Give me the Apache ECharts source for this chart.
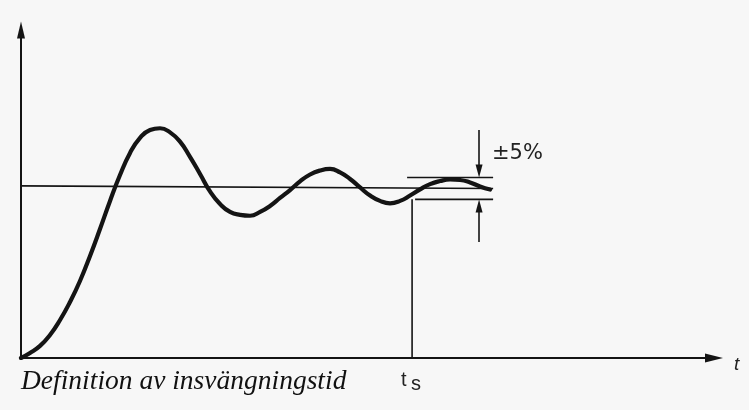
<!DOCTYPE html>
<html>
<head>
<meta charset="utf-8">
<script src="https://cdn.jsdelivr.net/npm/echarts@6/dist/echarts.min.js"></script>
<style>
html,body{margin:0;padding:0;background:#f7f7f7;}
#c{width:749px;height:410px;}
</style>
</head>
<body>
<div id="c"></div>
<script>
// Step response (time t, relative output y; 1 = steady state)
const respT = [0, 0.128, 0.271, 0.413, 0.556, 0.698, 0.840, 0.983, 1.125, 1.268, 1.410, 1.553, 1.695,
  1.838, 1.980, 2.123, 2.265, 2.407, 2.550, 2.692, 2.835, 2.977, 3.120, 3.262, 3.405, 3.547, 3.689,
  3.832, 3.974, 4.117, 4.259, 4.402, 4.544, 4.687, 4.829, 4.972, 5.114, 5.256, 5.399, 5.541, 5.684,
  5.826, 5.969, 6.111, 6.254, 6.396, 6.538, 6.681];
const respY = [0, 0.029, 0.070, 0.133, 0.220, 0.324, 0.446, 0.591, 0.747, 0.910, 1.060, 1.188, 1.275,
  1.321, 1.331, 1.307, 1.253, 1.165, 1.066, 0.965, 0.892, 0.846, 0.829, 0.824, 0.846, 0.881, 0.927,
  0.973, 1.023, 1.063, 1.086, 1.095, 1.075, 1.037, 0.988, 0.941, 0.910, 0.896, 0.910, 0.941, 0.977,
  1.007, 1.025, 1.034, 1.031, 1.017, 0.994, 0.976];
// Steady-state reference line
const steadyT = [0, 6.724];
const steadyY = [0.997, 0.982];
// ±5% band lines
const bandUpperT = [5.499, 6.724];
const bandUpperY = [1.046, 1.046];
const bandLowerT = [5.613, 6.724];
const bandLowerY = [0.919, 0.919];
// Settling time ts marker
const tsT = [5.570, 5.570];
const tsY = [0, 0.919];
// Band dimension arrows (x, from y, to y)
const arrowX = 6.524;
const arrowUpper = [1.321, 1.083];
const arrowLower = [0.672, 0.881];
// Texts
const captionText = 'Definition av insvängningstid';
const axisName = 't';
const tsLabel = ['t', 's'];
const bandLabel = '±5%';

const zip = (a, b) => a.map((v, i) => [v, b[i]]);
const ink = '#141414';

const chart = echarts.init(document.getElementById('c'), null, {renderer: 'canvas'});
const thin = {color: ink, width: 1.6};

chart.setOption({
  animation: false,
  backgroundColor: '#f7f7f7',
  grid: {left: 21, right: 35, top: 30, bottom: 52, containLabel: false},
  xAxis: {
    type: 'value', min: 0, max: 9.87,
    axisLine: {show: true, onZero: false, lineStyle: {color: ink, width: 2},
      symbol: ['none', 'triangle'], symbolSize: [9, 18]},
    axisTick: {show: false}, axisLabel: {show: false}, splitLine: {show: false}
  },
  yAxis: {
    type: 'value', min: 0, max: 1.9,
    axisLine: {show: true, onZero: false, lineStyle: {color: ink, width: 2},
      symbol: ['none', 'triangle'], symbolSize: [8, 17]},
    axisTick: {show: false}, axisLabel: {show: false}, splitLine: {show: false}
  },
  series: [
    {type: 'line', data: zip(steadyT, steadyY), symbol: 'none', lineStyle: thin, silent: true, z: 2},
    {type: 'line', data: zip(bandUpperT, bandUpperY), symbol: 'none', lineStyle: thin, silent: true, z: 2},
    {type: 'line', data: zip(bandLowerT, bandLowerY), symbol: 'none', lineStyle: thin, silent: true, z: 2},
    {type: 'line', data: zip(tsT, tsY), symbol: 'none', lineStyle: thin, silent: true, z: 2},
    {type: 'line', data: zip(respT, respY), symbol: 'none', smooth: true,
      lineStyle: {color: ink, width: 4.2, cap: 'round', join: 'round'}, silent: true, z: 3,
      markLine: {
        silent: true, animation: false,
        symbol: ['none', 'triangle'], symbolSize: [7, 13],
        label: {show: false},
        lineStyle: {color: ink, width: 1.6, type: 'solid'},
        emphasis: {disabled: true},
        data: [
          [{coord: [arrowX, arrowUpper[0]]}, {coord: [arrowX, arrowUpper[1]]}],
          [{coord: [arrowX, arrowLower[0]]}, {coord: [arrowX, arrowLower[1]]}]
        ]
      }
    }
  ],
  graphic: [
    {type: 'text', left: 21, top: 368, silent: true,
      style: {text: captionText, font: 'italic 27.5px "Liberation Serif"', fill: '#111'}},
    {type: 'text', left: 734, top: 355, silent: true,
      style: {text: axisName, font: 'italic 19px "Liberation Sans"', fill: '#222'}},
    {type: 'text', left: 401, top: 370, silent: true,
      style: {text: tsLabel[0], font: '20px "Liberation Sans"', fill: '#222'}},
    {type: 'text', left: 411, top: 374, silent: true,
      style: {text: tsLabel[1], font: '20px "Liberation Sans"', fill: '#222'}},
    {type: 'text', left: 492, top: 143, silent: true,
      style: {text: bandLabel, font: '21px "DejaVu Sans"', fill: '#222'}}
  ]
});
</script>
</body>
</html>
